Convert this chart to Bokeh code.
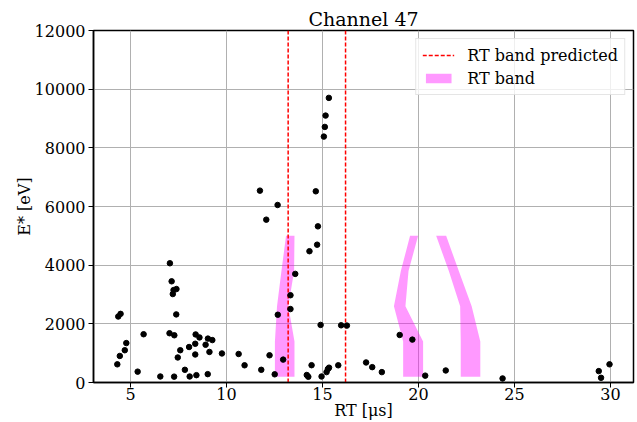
from bokeh.plotting import figure
from bokeh.models import Range1d, Legend, LegendItem, FixedTicker
from bokeh.embed import file_html
from bokeh.resources import INLINE

# ---- data ----
title_text = "Channel 47"
x_label = "RT [μs]"
y_label = "E* [eV]"
x_ticks = [5, 10, 15, 20, 25, 30]
y_ticks = [0, 2000, 4000, 6000, 8000, 10000, 12000]

rt_points = [4.31, 4.44, 4.70, 4.78, 4.36, 4.48, 5.37, 5.68, 6.55, 7.05,
             7.14, 7.20, 7.24, 7.39, 7.38, 7.03, 7.28, 7.59, 7.46, 7.27,
             7.83, 8.05, 8.08, 8.37, 8.39, 8.59, 8.37, 8.43, 8.91, 9.03,
             9.26, 9.11, 9.02, 9.76, 10.63, 10.94, 11.81, 11.74, 12.07, 12.24,
             12.51, 12.66, 12.67, 12.95, 13.33, 13.33, 13.58, 14.65, 14.32, 14.72,
             14.76, 14.90, 14.18, 14.26, 14.43, 15.07, 15.12, 15.16, 15.33, 14.95,
             15.21, 15.28, 15.34, 15.82, 15.97, 16.27, 17.27, 17.59, 18.09, 19.02,
             19.68, 20.35, 21.42, 24.38, 29.39, 29.51, 29.95]
e_points = [620, 905, 1100, 1344, 2250, 2340, 370, 1645, 205, 4065,
            3450, 3015, 3150, 3186, 2321, 1680, 1610, 1100, 853, 200,
            433, 1210, 205, 1320, 1638, 1536, 955, 250, 1286, 1496,
            1446, 1042, 285, 990, 972, 587, 433, 6541, 5551, 928,
            279, 6052, 2310, 780, 2504, 2975, 3703, 6518, 4476, 4698,
            5323, 1963, 256, 195, 590, 8383, 8713, 9100, 9703, 205,
            354, 460, 505, 587, 1950, 1940, 683, 524, 354, 1620,
            1462, 234, 410, 138, 388, 160, 620]

rt_predicted = [13.21, 16.20]
e_span = [0, 12000]

band_e = [200, 1400, 2600, 3800, 5000]
band1_lo = [12.52, 12.52, 12.63, 12.86, 13.10]
band1_hi = [13.54, 13.54, 13.22, 13.52, 13.54]
band2_lo = [19.20, 19.20, 18.72, 19.08, 19.56]
band2_hi = [20.24, 20.24, 19.32, 19.48, 19.98]
band3_lo = [22.20, 22.20, 22.17, 21.58, 20.92]
band3_hi = [23.22, 23.22, 22.77, 22.10, 21.44]

SERIF = "DejaVu Serif"

p = figure(width=637, height=422, output_backend="svg", toolbar_location=None,
           x_range=Range1d(3.07, 31.2), y_range=Range1d(0, 12000),
           min_border_left=93, min_border_right=4, min_border_top=30,
           min_border_bottom=40, title=title_text)

p.title.text_font = SERIF
p.title.text_font_size = "19px"
p.title.text_font_style = "normal"
p.title.text_color = "black"
p.title.align = "center"
p.title.standoff = 2

# bands
areas = []
for lo, hi in [(band1_lo, band1_hi), (band2_lo, band2_hi), (band3_lo, band3_hi)]:
    a = p.harea(x1=lo, x2=hi, y=band_e, fill_color="#ff00ff", fill_alpha=0.4)
    areas.append(a)

# predicted lines
pred_lines = []
for v in rt_predicted:
    ln = p.line(x=[v, v], y=e_span, line_color="#ff0000", line_width=1.5,
                line_dash="4 2")
    pred_lines.append(ln)

# points
p.scatter(rt_points, e_points, size=5.5, color="black")

legend = Legend(items=[LegendItem(label="RT band predicted", renderers=[pred_lines[0]]),
                       LegendItem(label="RT band", renderers=[areas[0]])],
                location="top_right")
legend.label_text_font = SERIF
legend.label_text_font_size = "16px"
legend.label_text_color = "black"
legend.glyph_width = 32
legend.glyph_height = 12
legend.label_height = 20
legend.spacing = 3
legend.label_standoff = 13
legend.padding = 6
legend.margin = 8
legend.border_line_color = "#cccccc"
legend.border_line_width = 1
legend.background_fill_alpha = 0.8
p.add_layout(legend)

# axes
for ax in (p.xaxis, p.yaxis):
    ax.major_label_text_font = SERIF
    ax.major_label_text_font_size = "16px"
    ax.major_label_text_color = "black"
    ax.major_tick_in = 0
    ax.major_tick_out = 5
    ax.major_tick_line_color = "black"
    ax.minor_tick_line_color = None
    ax.axis_line_color = "black"
    ax.axis_line_width = 1.5
    ax.axis_label_text_font = SERIF
    ax.axis_label_text_font_size = "16px"
    ax.axis_label_text_font_style = "normal"
    ax.axis_label_text_color = "black"
p.xaxis.ticker = FixedTicker(ticks=x_ticks)
p.yaxis.ticker = FixedTicker(ticks=y_ticks)
p.xaxis.axis_label = x_label
p.yaxis.axis_label = y_label
p.xaxis.major_label_standoff = 0
p.xaxis.axis_label_standoff = -2
p.yaxis.major_label_standoff = 3
p.yaxis.axis_label_standoff = -2

p.outline_line_color = "black"
p.outline_line_width = 1.5
p.grid.grid_line_color = "#b0b0b0"
p.grid.grid_line_width = 1
p.xgrid.ticker = FixedTicker(ticks=x_ticks)
p.ygrid.ticker = FixedTicker(ticks=y_ticks)

open("out.html", "w").write(file_html(p, INLINE))
